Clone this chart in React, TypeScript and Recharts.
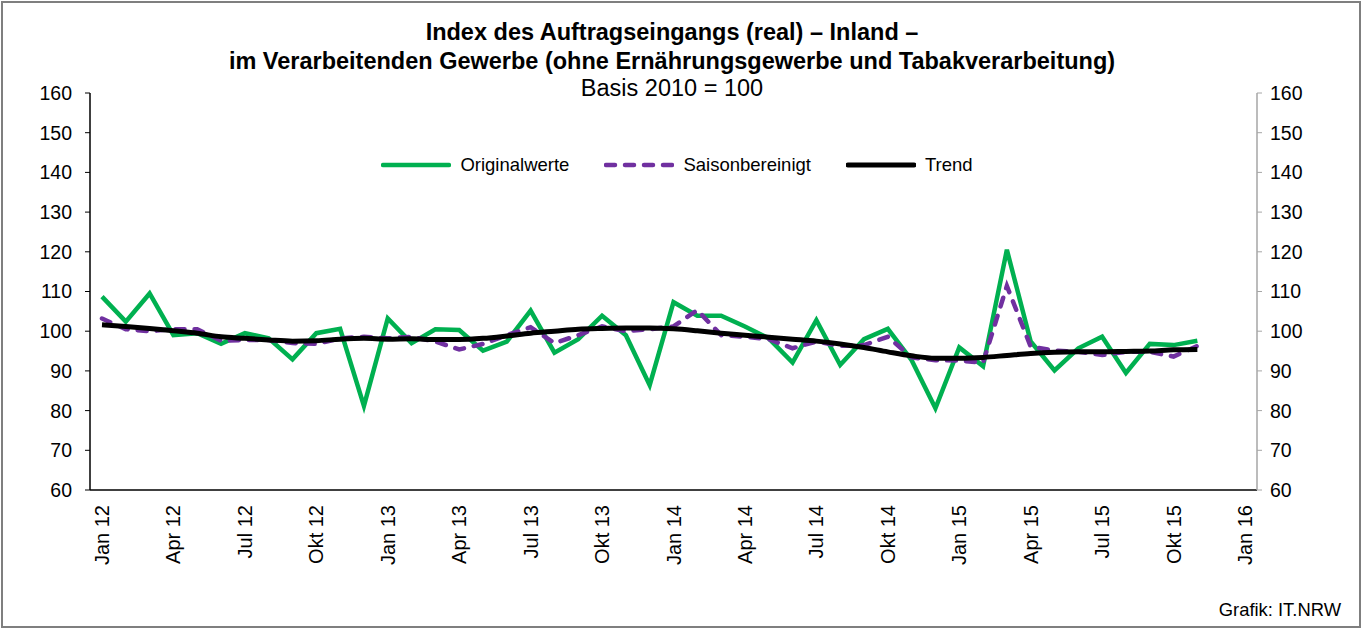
import React from 'react';
import { LineChart, Line, XAxis, YAxis } from 'recharts';

const categories = [
  'Jan 12', 'Feb 12', 'Mär 12', 'Apr 12', 'Mai 12', 'Jun 12', 'Jul 12', 'Aug 12', 'Sep 12', 'Okt 12', 'Nov 12', 'Dez 12',
  'Jan 13', 'Feb 13', 'Mär 13', 'Apr 13', 'Mai 13', 'Jun 13', 'Jul 13', 'Aug 13', 'Sep 13', 'Okt 13', 'Nov 13', 'Dez 13',
  'Jan 14', 'Feb 14', 'Mär 14', 'Apr 14', 'Mai 14', 'Jun 14', 'Jul 14', 'Aug 14', 'Sep 14', 'Okt 14', 'Nov 14', 'Dez 14',
  'Jan 15', 'Feb 15', 'Mär 15', 'Apr 15', 'Mai 15', 'Jun 15', 'Jul 15', 'Aug 15', 'Sep 15', 'Okt 15', 'Nov 15', 'Dez 15',
  'Jan 16',
];

const originalwerte = [
  108.7, 102.4, 109.5, 99.0, 99.5, 96.8, 99.5, 98.2, 92.9, 99.5, 100.6, 81.2,
  103.2, 97.0, 100.5, 100.3, 95.1, 97.4, 105.2, 94.6, 98.0, 103.9, 99.0, 86.4,
  107.3, 103.9, 103.9, 101.2, 98.2, 92.1, 102.8, 91.5, 98.0, 100.6, 92.7, 80.6,
  95.9, 91.2, 120.5, 97.4, 90.1, 95.7, 98.6, 89.5, 96.8, 96.5, 97.6,
];

const saisonbereinigt = [
  103.2, 100.5, 100.0, 100.5, 100.5, 97.6, 97.8, 97.8, 97.0, 96.8, 98.2, 98.6,
  98.2, 98.6, 97.4, 95.4, 96.8, 99.0, 101.0, 97.0, 99.0, 101.2, 100.0, 100.5,
  101.2, 105.3, 99.0, 98.6, 98.0, 95.7, 97.4, 96.3, 96.5, 98.6, 93.4, 92.7,
  92.6, 92.1, 111.4, 96.1, 95.1, 94.8, 94.0, 94.8, 94.8, 93.6, 96.3,
];

const trend = [
  101.6, 101.2, 100.7, 100.1, 99.5, 98.6, 98.2, 97.8, 97.5, 97.6, 98.0, 98.2,
  98.0, 98.1, 97.9, 97.9, 98.2, 98.8, 99.5, 100.0, 100.5, 100.7, 100.8, 100.8,
  100.6, 100.1, 99.5, 99.0, 98.5, 98.0, 97.5, 96.8, 95.9, 94.8, 93.8, 93.2,
  93.2, 93.4, 93.9, 94.4, 94.7, 94.8, 94.8, 94.9, 95.0, 95.3, 95.4,
];

const yTicks = [60, 70, 80, 90, 100, 110, 120, 130, 140, 150, 160];

const seriesNames = ['Originalwerte', 'Saisonbereinigt', 'Trend'];

const data = categories.map((cat, i) => ({
  cat,
  orig: originalwerte[i],
  saison: saisonbereinigt[i],
  trend: trend[i],
}));

const FONT = '"Liberation Sans", Arial, sans-serif';

const XTick = (props: any) => {
  const { x, y, payload } = props;
  return (
    <text
      x={x}
      y={y}
      transform={`rotate(-90, ${x}, ${y})`}
      textAnchor="end"
      dominantBaseline="central"
      fontSize={20}
      fontFamily={FONT}
      fill="#000"
    >
      {payload.value}
    </text>
  );
};

const legendItems = [
  { name: seriesNames[0], color: '#00b050', dash: undefined as string | undefined, width: 4.5 },
  { name: seriesNames[1], color: '#7030a0', dash: '9 10', width: 4.5 },
  { name: seriesNames[2], color: '#000000', dash: undefined as string | undefined, width: 5 },
];

const LegendBox = () => (
  <div style={{ position: 'absolute', left: 0, top: 153, width: 1362, display: 'flex', justifyContent: 'center', alignItems: 'center', fontFamily: FONT, fontSize: 18.5, lineHeight: '24px', color: '#000', paddingRight: 8, boxSizing: 'border-box' }}>
    {legendItems.map((it, i) => (
      <div key={it.name} style={{ display: 'flex', alignItems: 'center', marginLeft: i === 0 ? 0 : 35 }}>
        <svg width={70} height={10} style={{ display: 'block' }}>
          <line x1={2} y1={5} x2={68} y2={5} stroke={it.color} strokeWidth={it.width} strokeDasharray={it.dash} strokeLinecap="round" />
        </svg>
        <span style={{ marginLeft: 9 }}>{it.name}</span>
      </div>
    ))}
  </div>
);

export default function App() {
  return (
    <div style={{ position: 'absolute', left: 0, top: 0, width: 1362, height: 629, background: '#fff', fontFamily: FONT }}>
      <div style={{ position: 'absolute', left: 1, top: 1, width: 1356, height: 623, border: '2px solid #7f7f7f' }} />
      <div style={{ position: 'absolute', left: 0, top: 0 }}>
        <LineChart width={1362} height={629} data={data} margin={{ top: 93, right: 50, bottom: 69, left: 0 }}>
          <XAxis
            dataKey="cat"
            interval={2}
            tickLine={false}
            axisLine={{ stroke: '#000', strokeWidth: 1.5 }}
            tick={<XTick />}
            height={70}
            padding={{ left: 12, right: 12 }}
            tickMargin={9}
          />
          <YAxis
            yAxisId="left"
            domain={[60, 160]}
            ticks={yTicks}
            width={90}
            tickSize={5}
            tickMargin={13}
            axisLine={{ stroke: '#000', strokeWidth: 1.5 }}
            tickLine={{ stroke: '#000' }}
            tick={{ fontSize: 19.5, fontFamily: FONT, fill: '#000' }}
            allowDataOverflow
          />
          <YAxis
            yAxisId="right"
            orientation="right"
            domain={[60, 160]}
            ticks={yTicks}
            width={55}
            tickSize={5}
            tickMargin={8}
            axisLine={{ stroke: '#a6a6a6', strokeWidth: 1.5 }}
            tickLine={{ stroke: '#a6a6a6' }}
            tick={{ fontSize: 19.5, fontFamily: FONT, fill: '#000', textAnchor: 'start' }}
            allowDataOverflow
          />
          <Line yAxisId="left" name={seriesNames[0]} dataKey="orig" type="linear" stroke="#00b050" strokeWidth={4.5} dot={false} isAnimationActive={false} />
          <Line yAxisId="left" name={seriesNames[1]} dataKey="saison" type="linear" stroke="#7030a0" strokeWidth={4.5} strokeDasharray="9 10" strokeLinecap="round" dot={false} isAnimationActive={false} />
          <Line yAxisId="left" name={seriesNames[2]} dataKey="trend" type="monotone" stroke="#000" strokeWidth={5} dot={false} isAnimationActive={false} />
          <Line yAxisId="right" dataKey="trend" stroke="none" dot={false} legendType="none" isAnimationActive={false} />
        </LineChart>
      </div>
      <div style={{ position: 'absolute', left: 0, top: 18, width: 1344, textAlign: 'center', fontWeight: 'bold', fontSize: 23.5, lineHeight: '29px', color: '#000' }}>
        <div>Index des Auftragseingangs (real) – Inland –</div>
        <div>im Verarbeitenden Gewerbe (ohne Ernährungsgewerbe und Tabakverarbeitung)</div>
      </div>
      <div style={{ position: 'absolute', left: 0, top: 74, width: 1344, textAlign: 'center', fontSize: 23.5, lineHeight: '28px', color: '#000' }}>
        Basis 2010 = 100
      </div>
      <LegendBox />
      <div style={{ position: 'absolute', right: 21, top: 599, fontSize: 18.4, lineHeight: '22px', color: '#000' }}>Grafik: IT.NRW</div>
    </div>
  );
}
